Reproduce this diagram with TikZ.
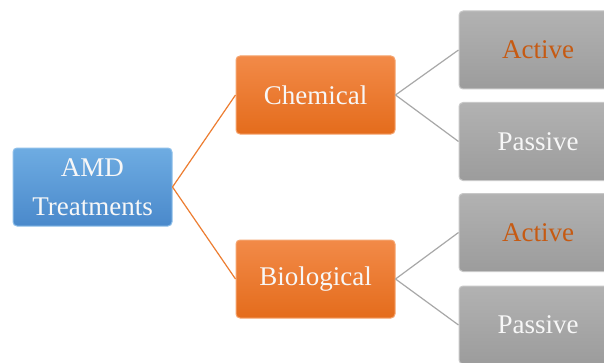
\documentclass[tikz,border=0pt]{standalone}
\usepackage{fontspec}
\setmainfont{Liberation Serif}
\definecolor{bluetop}{HTML}{6EACE2}
\definecolor{bluebot}{HTML}{4A89CB}
\definecolor{bluebd}{HTML}{8FC0EA}
\definecolor{orgtop}{HTML}{F28A48}
\definecolor{orgbot}{HTML}{E46C1C}
\definecolor{orgbd}{HTML}{F5A570}
\definecolor{graytop}{HTML}{B2B2B2}
\definecolor{graybot}{HTML}{9C9C9C}
\definecolor{graybd}{HTML}{C8C8C8}
\definecolor{linkorg}{HTML}{ED7D31}
\definecolor{linkgray}{HTML}{A8A8A8}
\definecolor{acttext}{HTML}{C65A12}
\definecolor{txtwhite}{HTML}{F7F7F7}
\begin{document}
\begin{tikzpicture}[x=1pt,y=1pt,
  box/.style={rounded corners=4pt, minimum width=159pt, minimum height=78pt,
    line width=1pt, inner sep=0pt, align=center, text=txtwhite,
    font=\fontsize{27}{39}\selectfont},
  bluebox/.style={box, draw=bluebd, top color=bluetop, bottom color=bluebot},
  orgbox/.style={box, draw=orgbd, top color=orgtop, bottom color=orgbot},
  graybox/.style={box, draw=graybd, top color=graytop, bottom color=graybot},
  orglink/.style={draw=linkorg, line width=1.2pt},
  graylink/.style={draw=linkgray, line width=1.2pt}]
\useasboundingbox (0,0) rectangle (604,362);
\clip (0,0) rectangle (604,362);
\fill[white] (0,0) rectangle (604,362);
\node[bluebox] (amd) at (92.5,175) {AMD\\Treatments};
\node[orgbox] (chem) at (315.5,267) {Chemical};
\node[orgbox] (bio) at (315.5,83) {Biological};
\node[graybox, minimum width=158pt, text=acttext] (a1) at (538,312) {Active};
\node[graybox, minimum width=158pt] (p1) at (538,220.5) {Passive};
\node[graybox, minimum width=158pt, text=acttext] (a2) at (538,129.5) {Active};
\node[graybox, minimum width=158pt] (p2) at (538,37) {Passive};
\draw[orglink] (amd.east) -- (chem.west);
\draw[orglink] (amd.east) -- (bio.west);
\draw[graylink] (chem.east) -- (a1.west);
\draw[graylink] (chem.east) -- (p1.west);
\draw[graylink] (bio.east) -- (a2.west);
\draw[graylink] (bio.east) -- (p2.west);
\end{tikzpicture}
\end{document}
